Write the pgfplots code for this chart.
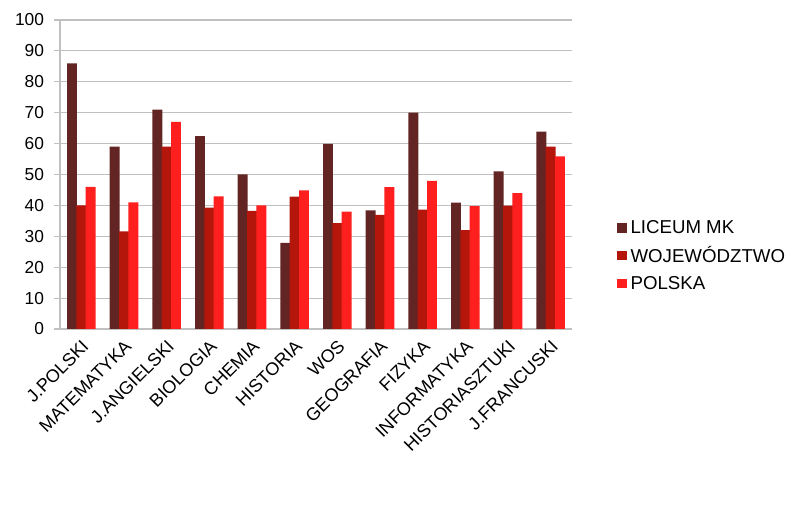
\documentclass[border=0pt]{standalone}
\usepackage{pgfplots}
\pgfplotsset{compat=1.18}
\usepackage{fontspec}
\setmainfont{Liberation Sans}

\definecolor{liceum}{HTML}{632523}
\definecolor{woj}{HTML}{B5160B}
\definecolor{polska}{HTML}{FF1F1F}
\definecolor{gridgray}{HTML}{C0C0C0}

\begin{document}
\begin{tikzpicture}
% page size: 800 x 509 px at 0.75 bp per px
\path (0,0) rectangle (600bp,381.75bp);
\begin{axis}[
    at={(45bp,135bp)}, anchor=south west,
    scale only axis,
    width=384bp, height=231.75bp,
    ybar=-0.4bp, bar width=7.4bp,
    xmin=-0.5, xmax=11.5,
    ymin=0, ymax=100,
    ytick={0,10,...,100},
    xtick={0,...,11},
    xticklabels={J.POLSKI,MATEMATYKA,J.ANGIELSKI,BIOLOGIA,CHEMIA,HISTORIA,WOS,GEOGRAFIA,FIZYKA,INFORMATYKA,HISTORIASZTUKI,J.FRANCUSKI},
    x tick label style={rotate=45, anchor=east, font=\fontsize{13.5bp}{15bp}\selectfont, inner sep=1bp, yshift=-6.5bp, xshift=-1bp},
    y tick label style={font=\fontsize{13bp}{15bp}\selectfont, xshift=-4bp},
    /pgf/number format/assume math mode=true,
    ymajorgrids=true,
    grid style={gridgray, line width=0.8bp},
    axis line style={gridgray, line width=0.8bp},
    axis x line*=bottom, axis y line*=left,
    separate axis lines,
    every outer x axis line/.append style={-},
    every outer y axis line/.append style={-},
    tick style={gridgray, line width=0.8bp},
    tick align=outside,
    major tick length=4.5bp,
    x tick style={draw=none},
    extra x ticks={-0.5,0.5,...,11.5},
    extra x tick labels={},
    extra x tick style={grid=none, tick style={gridgray, line width=0.8bp}},
    legend style={draw=none, at={(1.08,0.237)}, anchor=west,
        font=\fontsize{14bp}{16bp}\selectfont, row sep=4.5bp,
        legend cell align=left,
        nodes={inner xsep=3bp}},
    legend image code/.code={\fill[#1] (0bp,-3.5bp) rectangle (7bp,3.5bp);},
    clip=false,
]
\addplot[fill=liceum, draw=none] coordinates {
 (0,86) (1,59) (2,71) (3,62.4) (4,50) (5,27.9) (6,59.9) (7,38.4) (8,70) (9,40.9) (10,51) (11,63.9)};
\addplot[fill=woj, draw=none] coordinates {
 (0,40) (1,31.6) (2,59) (3,39.3) (4,38.2) (5,42.8) (6,34.3) (7,36.9) (8,38.6) (9,32) (10,39.9) (11,59)};
\addplot[fill=polska, draw=none] coordinates {
 (0,46) (1,41) (2,67) (3,42.9) (4,40) (5,44.9) (6,38) (7,45.9) (8,47.9) (9,39.8) (10,44) (11,55.9)};
\legend{LICEUM MK,WOJEWÓDZTWO,POLSKA}
\end{axis}
\end{tikzpicture}
\end{document}
